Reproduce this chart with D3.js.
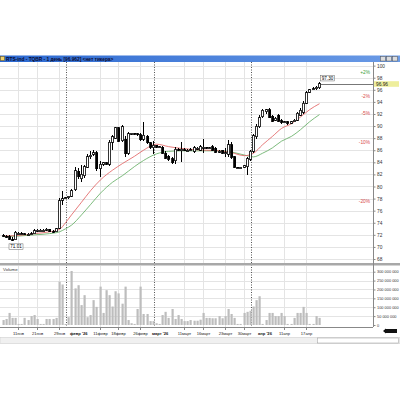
<!DOCTYPE html>
<html>
<head>
<meta charset="utf-8">
<script src="https://cdn.jsdelivr.net/npm/d3@7/dist/d3.min.js"></script>
<style>
  body { margin: 0; background: #fff; }
  svg { display: block; font-family: "Liberation Sans", "DejaVu Sans", sans-serif; }
</style>
</head>
<body>
<script>
// daily candles, 11 Jan .. 22 Apr 2026
var firstDay = new Date(2026, 0, 11);
var lastDay = new Date(2026, 3, 23);

var opens  = [71.9,71.8,71.7,71.3,71.2,72.3,72.3,72.2,72.1,72.0,72.2,72.7,72.8,72.8,72.8,72.9,72.6,72.5,73.1,77.7,78.1,
  78.1,78.4,79.5,82.5,81.3,81.8,83.2,84.9,85.3,85.6,82.9,83.7,83.9,83.7,87.3,88.0,89.7,87.6,87.8,85.5,88.7,88.8,88.7,88.6,87.8,88.3,87.2,86.4,
  86.8,86.6,86.5,85.5,85.0,84.6,84.3,86.2,85.9,86.1,86.0,86.0,85.8,86.3,86.0,86.4,86.5,86.4,86.6,86.3,85.8,86.0,85.5,85.3,86.9,84.9,83.2,83.1,83.2,83.3,84.5,
  85.8,88.2,89.9,91.5,92.4,92.7,91.6,91.0,91.8,90.9,90.6,90.7,90.5,90.7,91.0,91.8,92.3,93.8,95.6,96.0,96.2,96.3];
var highs  = [72.2,72.0,71.9,71.6,72.6,72.4,72.4,72.3,72.3,72.4,72.9,73.0,72.9,72.9,73.1,73.0,72.8,73.2,78.1,79.3,78.3,
  78.5,79.6,83.2,83.0,83.6,83.6,85.3,85.8,86.0,85.9,84.2,84.1,84.1,87.7,88.6,89.9,89.9,90.2,88.4,89.0,88.9,88.9,88.8,88.8,90.7,88.6,87.4,87.6,
  86.9,86.7,86.7,85.8,85.2,84.8,86.5,86.4,87.4,86.3,86.2,86.3,86.7,86.5,86.8,87.9,86.6,86.5,86.8,86.5,86.0,86.1,86.4,87.7,87.3,85.1,83.3,83.3,83.6,84.9,86.0,
  88.7,90.3,91.8,92.8,92.9,93.0,91.9,91.5,92.0,91.2,90.9,90.8,90.9,91.2,92.4,93.0,94.1,95.8,96.2,96.4,96.6,97.3];
var lows   = [71.6,71.4,71.1,71.01,71.1,72.2,72.2,72.0,72.0,71.9,72.1,72.5,72.7,72.7,72.6,72.4,72.3,72.4,72.9,77.0,77.9,
  78.0,78.2,79.3,81.3,80.7,81.4,83.0,84.6,85.0,82.6,81.5,83.4,83.5,83.4,86.0,87.8,87.3,87.4,84.9,85.2,88.6,88.6,88.4,87.5,87.6,87.0,86.2,85.4,
  86.4,86.5,85.3,84.6,84.3,83.7,83.8,85.8,84.1,85.9,85.8,85.9,85.6,86.1,85.9,85.5,86.2,86.3,85.9,85.6,85.6,85.3,84.9,84.8,84.6,83.0,83.0,83.0,83.0,81.9,84.2,
  85.6,87.9,89.6,91.3,92.0,91.3,90.6,90.8,90.6,90.4,90.5,90.2,90.4,90.6,90.8,91.6,92.0,93.6,95.5,95.9,95.9,96.1];
var closes = [71.8,71.6,71.3,71.2,72.4,72.3,72.2,72.1,72.1,72.2,72.7,72.8,72.8,72.8,72.9,72.5,72.4,73.0,77.6,78.0,78.1,
  78.4,79.3,82.6,81.6,82.0,83.3,84.9,85.2,85.6,82.9,83.7,83.9,83.7,87.3,88.2,89.7,87.5,89.9,85.4,88.7,88.8,88.7,88.6,87.7,88.5,87.2,86.5,86.8,
  86.5,86.6,85.5,84.7,84.5,83.9,86.2,86.0,86.2,86.0,86.0,86.1,86.4,86.3,86.6,86.5,86.4,86.4,86.0,85.7,85.8,85.5,85.6,86.9,84.8,83.2,83.1,83.2,83.4,84.6,85.8,
  88.4,90.0,91.4,92.6,92.7,91.4,90.8,91.3,90.8,90.6,90.7,90.5,90.7,91.0,92.1,92.6,93.8,95.5,96.0,96.2,96.4,96.96];
// volume, millions
var volumes = [28,34,68,40,40,6,6,40,28,50,56,34,6,6,34,34,34,40,244,228,6,
  44,304,206,224,112,168,44,56,140,102,216,68,196,168,104,190,178,120,216,28,10,6,90,216,62,62,22,22,
  10,6,56,74,40,90,34,56,34,22,22,28,24,24,30,68,40,40,38,38,50,38,50,90,62,40,6,6,68,74,80,
  104,140,162,6,28,68,68,50,50,68,50,6,6,40,68,68,102,68,6,6,50,40];

// moving averages at some of the days
var maIdx  = [0,5,10,15,18,20,22,25,28,31,35,38,42,45,49,53,57,61,65,69,73,77,80,83,86,89,92,95,98,101];
var maRed  = [71.8,71.9,72.2,72.5,72.9,74.0,75.3,77.4,79.3,81.1,82.7,83.8,85.0,86.0,87.0,86.6,86.3,86.1,86.0,85.9,85.6,85.1,85.5,86.9,88.3,89.6,90.4,91.5,92.7,93.7];
var maGreen= [71.7,71.8,72.0,72.2,72.5,73.0,73.6,75.3,77.0,78.9,80.7,81.8,83.3,84.3,85.4,85.8,85.9,85.9,85.9,85.9,85.7,85.2,84.9,85.5,86.4,87.5,88.3,89.4,90.7,91.9];

var tickIdx    = [5,11,18,31,37,44,58,64,71,77,90,97];
var tickLabels = ["11янв","21янв","29янв","11февр","18февр","26февр","11март","16март","23март","30март","11апр","17апр"];
var monthIdx      = [21,49,80];
var monthLabelIdx = [22,48,82];
var monthLabels   = ["февр '26","март '26","апр '26"];

var priceTicks = [68,70,72,74,76,78,80,82,84,86,88,90,92,94,96,98,100];
var volTicks = [0,50,100,150,200,250,300];
var pctLevels = [2,-2,-5,-10,-20];
var titleText = "RTS-ind - TQBR - 1 день [96.962] <нет тикера>";

var W = 400, H = 400;
var axisX = 373;

var days = d3.timeDay.range(firstDay, lastDay);

var svg = d3.select("body").append("svg")
    .attr("width", W).attr("height", H);

var x = d3.scaleBand().domain(days).range([0.5, 320.8]).padding(0.3);
var cx = function(i) { return Math.round(x(days[i]) + x.bandwidth() / 2); };

var y = d3.scaleLinear().domain([67.34, 100.6]).range([263, 62]);
var yv = d3.scaleLinear().domain([0, 300]).range([325, 271.7]);

// title bar
var grad = svg.append("defs").append("linearGradient").attr("id", "tb");
grad.append("stop").attr("offset", "0").attr("stop-color", "#2b68d0");
grad.append("stop").attr("offset", "1").attr("stop-color", "#6b9be6");
svg.append("rect").attr("x", 0).attr("y", 55.5).attr("width", W).attr("height", 6.5).attr("fill", "url(#tb)");
svg.append("rect").attr("x", 0.5).attr("y", 56.5).attr("width", 4).attr("height", 4)
    .attr("fill", "#f3d36b").attr("stroke", "#7a5a10").attr("stroke-width", 0.5);
svg.append("text").attr("x", 6).attr("y", 60.7).text(titleText)
    .attr("font-size", 4.8).attr("font-weight", "bold").attr("fill", "#0a0a30");
[380.5, 386.5, 392.5].forEach(function(bx) {
  svg.append("rect").attr("x", bx).attr("y", 56.5).attr("width", 5).attr("height", 4.5)
      .attr("fill", "#dcdcdc").attr("stroke", "#555").attr("stroke-width", 0.5);
});

// grid
var grid = svg.append("g").attr("stroke", "#e4e4e4").attr("stroke-width", 1).attr("shape-rendering", "crispEdges");
priceTicks.forEach(function(v) {
  grid.append("line").attr("x1", 0).attr("x2", axisX).attr("y1", Math.round(y(v)) + 0.5).attr("y2", Math.round(y(v)) + 0.5);
});
volTicks.slice(1).forEach(function(v) {
  grid.append("line").attr("x1", 0).attr("x2", axisX).attr("y1", Math.round(yv(v)) + 0.5).attr("y2", Math.round(yv(v)) + 0.5);
});
tickIdx.forEach(function(i) {
  grid.append("line").attr("x1", cx(i) + 0.5).attr("x2", cx(i) + 0.5).attr("y1", 62).attr("y2", 263);
  grid.append("line").attr("x1", cx(i) + 0.5).attr("x2", cx(i) + 0.5).attr("y1", 266).attr("y2", 327);
});

// month separators
monthIdx.forEach(function(i) {
  svg.append("line").attr("x1", cx(i) - 1.5).attr("x2", cx(i) - 1.5).attr("y1", 62).attr("y2", 327)
      .attr("stroke", "#555").attr("stroke-width", 1).attr("stroke-dasharray", "1,1.5");
});

// percent levels from last close
var last = closes[closes.length - 1];
pctLevels.forEach(function(p) {
  svg.append("text").attr("x", 370).attr("y", y(last * (1 + p / 100)) + 1.8)
      .attr("text-anchor", "end").attr("font-size", 4.8)
      .attr("fill", p > 0 ? "#3aa13a" : "#d84a4a")
      .text((p > 0 ? "+" : "") + p + "%");
});

// moving averages
var maLine = d3.line().x(function(d) { return cx(d[0]) + 0.5; }).y(function(d) { return y(d[1]); }).curve(d3.curveMonotoneX);
svg.append("path").datum(maIdx.map(function(i, k) { return [i, maGreen[k]]; }))
    .attr("d", maLine).attr("fill", "none").attr("stroke", "#5caa5c").attr("stroke-width", 0.8);
svg.append("path").datum(maIdx.map(function(i, k) { return [i, maRed[k]]; }))
    .attr("d", maLine).attr("fill", "none").attr("stroke", "#e05a5a").attr("stroke-width", 0.8);

// candles
var candles = svg.append("g").attr("shape-rendering", "crispEdges");
days.forEach(function(d, i) {
  var c = cx(i);
  candles.append("line").attr("x1", c + 0.5).attr("x2", c + 0.5)
      .attr("y1", y(highs[i])).attr("y2", y(lows[i])).attr("stroke", "#000").attr("stroke-width", 1);
  var top = Math.min(y(opens[i]), y(closes[i]));
  var hgt = Math.max(Math.abs(y(opens[i]) - y(closes[i])), 1);
  candles.append("rect").attr("x", c - 0.5).attr("y", top).attr("width", 2).attr("height", hgt)
      .attr("fill", closes[i] >= opens[i] ? "#fff" : "#000")
      .attr("stroke", "#000").attr("stroke-width", 0.8);
});

// last price line and labels
svg.append("line").attr("x1", cx(days.length - 1) + 2).attr("x2", axisX)
    .attr("y1", Math.round(y(last)) + 0.5).attr("y2", Math.round(y(last)) + 0.5)
    .attr("stroke", "#777").attr("stroke-width", 1);

var hi = d3.max(highs), lo = d3.min(lows);
var hiI = highs.indexOf(hi), loI = lows.indexOf(lo);
svg.append("rect").attr("x", cx(hiI) + 1.5).attr("y", y(hi) - 6.5).attr("width", 14).attr("height", 5.5)
    .attr("fill", "#fff").attr("stroke", "#666").attr("stroke-width", 0.5);
svg.append("text").attr("x", cx(hiI) + 8.5).attr("y", y(hi) - 2.2).attr("text-anchor", "middle")
    .attr("font-size", 4.6).text(hi.toFixed(2));
svg.append("rect").attr("x", cx(loI) - 3).attr("y", y(lo) + 3).attr("width", 14).attr("height", 5.5)
    .attr("fill", "#fff").attr("stroke", "#666").attr("stroke-width", 0.5);
svg.append("text").attr("x", cx(loI) + 4).attr("y", y(lo) + 7.3).attr("text-anchor", "middle")
    .attr("font-size", 4.6).text(lo.toFixed(2));

// panel separator
svg.append("rect").attr("x", 0).attr("y", 263).attr("width", W).attr("height", 2.5).attr("fill", "#a8a8a8");
svg.append("text").attr("x", 3).attr("y", 270.5).attr("font-size", 4.4).attr("fill", "#333").text("Volume");

// volume bars
svg.append("g").selectAll("rect").data(volumes).join("rect")
    .attr("x", function(v, i) { return cx(i) - 0.5; })
    .attr("y", function(v) { return yv(v); })
    .attr("width", 2.2)
    .attr("height", function(v) { return yv(0) - yv(v); })
    .attr("fill", "#bdbdbd");

// right axis
svg.append("line").attr("x1", axisX + 0.5).attr("x2", axisX + 0.5).attr("y1", 62).attr("y2", 327)
    .attr("stroke", "#888").attr("stroke-width", 1);
var pAxis = svg.append("g").attr("transform", "translate(" + (axisX + 0.5) + ",0)")
    .call(d3.axisRight(y).tickValues(priceTicks).tickSize(2).tickPadding(1.5));
var vfmt = function(v) { return d3.format(",")(v * 1e6).replace(/,/g, " "); };
var vAxis = svg.append("g").attr("transform", "translate(" + (axisX + 0.5) + ",0)")
    .call(d3.axisRight(yv).tickValues(volTicks).tickFormat(vfmt).tickSize(2).tickPadding(1.5));
pAxis.selectAll("text").attr("font-size", 4.8);
vAxis.selectAll("text").attr("font-size", 3.9);
[pAxis, vAxis].forEach(function(g) {
  g.select(".domain").remove();
  g.selectAll("line").attr("stroke", "#888");
  g.selectAll("text").attr("fill", "#333").attr("font-family", "Liberation Sans");
});

// current price box
svg.append("rect").attr("x", axisX + 1).attr("y", y(last) - 2.8).attr("width", 25).attr("height", 5.6)
    .attr("fill", "#eeee9c");
svg.append("text").attr("x", axisX + 3).attr("y", y(last) + 1.7).attr("font-size", 4.8).attr("fill", "#222")
    .text(last.toFixed(2));

// bottom axis
svg.append("line").attr("x1", 0).attr("x2", axisX).attr("y1", 327.5).attr("y2", 327.5).attr("stroke", "#888");
tickIdx.forEach(function(i, k) {
  svg.append("line").attr("x1", cx(i) + 0.5).attr("x2", cx(i) + 0.5).attr("y1", 327.5).attr("y2", 330)
      .attr("stroke", "#888");
  svg.append("text").attr("x", cx(i) + 0.5).attr("y", 335).attr("text-anchor", "middle")
      .attr("font-size", 4.1).attr("fill", "#222").text(tickLabels[k]);
});
monthLabelIdx.forEach(function(i, k) {
  svg.append("text").attr("x", cx(i) - 1).attr("y", 335)
      .attr("font-size", 4.1).attr("font-weight", "bold").attr("fill", "#111").text(monthLabels[k]);
});

// scroll strip
svg.append("rect").attr("x", 0).attr("y", 337.5).attr("width", W).attr("height", 6).attr("fill", "#f0f0f0")
    .attr("stroke", "#c8c8c8").attr("stroke-width", 0.5);
svg.append("rect").attr("x", 317.5).attr("y", 338).attr("width", 81).attr("height", 5).attr("fill", "#fff")
    .attr("stroke", "#999").attr("stroke-width", 0.5);
svg.append("rect").attr("x", 385).attr("y", 329).attr("width", 12).attr("height", 4).attr("fill", "#111");
svg.append("path").attr("d", "M383,331 L386,328.5 L386,333.5 Z").attr("fill", "#111");
</script>
</body>
</html>
